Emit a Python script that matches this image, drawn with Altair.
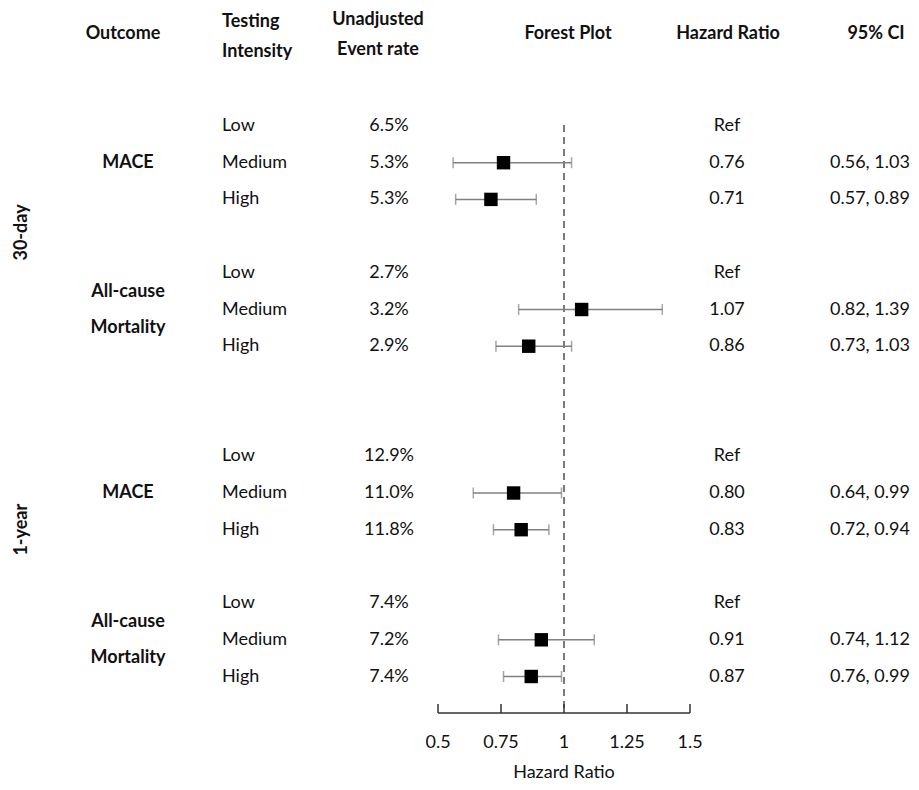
import altair as alt
import pandas as pd

# ---- data ----
periods = ["30-day", "1-year"]
outcomes = ["MACE", "All-cause\nMortality", "MACE", "All-cause\nMortality"]
intensity = ["Low", "Medium", "High"] * 4
event_rate = ["6.5%", "5.3%", "5.3%", "2.7%", "3.2%", "2.9%",
              "12.9%", "11.0%", "11.8%", "7.4%", "7.2%", "7.4%"]
hr = [None, 0.76, 0.71, None, 1.07, 0.86, None, 0.80, 0.83, None, 0.91, 0.87]
ci_lo = [None, 0.56, 0.57, None, 0.82, 0.73, None, 0.64, 0.72, None, 0.74, 0.76]
ci_hi = [None, 1.03, 0.89, None, 1.39, 1.03, None, 0.99, 0.94, None, 1.12, 0.99]
hr_label = ["Ref", "0.76", "0.71", "Ref", "1.07", "0.86",
            "Ref", "0.80", "0.83", "Ref", "0.91", "0.87"]
ci_label = ["", "0.56, 1.03", "0.57, 0.89", "", "0.82, 1.39", "0.73, 1.03",
            "", "0.64, 0.99", "0.72, 0.94", "", "0.74, 1.12", "0.76, 0.99"]
tick_values = [0.5, 0.75, 1.0, 1.25, 1.5]
tick_labels = ["0.5", "0.75", "1", "1.25", "1.5"]

# row layout (row index in table)
rows = [0, 1, 2, 4, 5, 6, 9, 10, 11, 13, 14, 15]
outcome_rows = [1, 5, 10, 14]
period_rows = [2.9, 11.0]

FONT = "Lato"
FS = 18

df = pd.DataFrame({
    "row": rows, "intensity": intensity, "rate": event_rate,
    "hr": hr, "lo": ci_lo, "hi": ci_hi, "hrl": hr_label, "cil": ci_label,
})
df_est = df.dropna(subset=["hr"]).reset_index(drop=True)
df_out = pd.DataFrame({"row": outcome_rows, "label": outcomes})
df_per = pd.DataFrame({"row": period_rows, "label": periods})
df_ticks = pd.DataFrame({"v": tick_values, "lab": tick_labels})

xs = alt.Scale(domain=[0.5, 1.5], range=[430, 682], nice=False, zero=False)
ys = alt.Scale(domain=[0, 15], range=[118, 668.5], nice=False, zero=False)
X = lambda f: alt.X(f, type="quantitative", scale=xs, axis=None)
Y = lambda f: alt.Y(f, type="quantitative", scale=ys, axis=None)


def col_text(field, xpos, align, data=df, bold=False, **kw):
    return alt.Chart(data).mark_text(
        align=align, baseline="middle", font=FONT, fontSize=FS,
        fontWeight="bold" if bold else "normal", color="#111111", **kw
    ).encode(x=alt.value(xpos), y=Y("row"), text=alt.Text(field))


intens = col_text("intensity", 214, "left")
rate = col_text("rate", 381, "center")
hrt = col_text("hrl", 719, "center")
cit = col_text("cil", 822, "left")
outc_single = col_text("label", 120, "center",
                       data=df_out[~df_out["label"].str.contains("\n")], bold=True)
outc_multi = col_text("label", 120, "center",
                      data=df_out[df_out["label"].str.contains("\n")], bold=True,
                      lineBreak="\n", lineHeight=36, dy=-18)
per = alt.Chart(df_per).mark_text(
    align="center", baseline="middle", font=FONT, fontSize=FS,
    fontWeight="bold", angle=270, color="#111111"
).encode(x=alt.value(14), y=Y("row"), text="label")


def header(txt, xpos, ypos, align="center"):
    return alt.Chart(pd.DataFrame({"t": [txt]})).mark_text(
        align=align, baseline="middle", font=FONT, fontSize=FS,
        fontWeight="bold", color="#111111", lineBreak="\n", lineHeight=30
    ).encode(x=alt.value(xpos), y=alt.value(ypos), text="t")


headers = [
    header("Outcome", 115, 26),
    header("Testing\nIntensity", 214, 14, align="left"),
    header("Unadjusted\nEvent rate", 370, 12),
    header("Forest Plot", 560, 26),
    header("Hazard Ratio", 720, 26),
    header("95% CI", 868, 26),
]

# forest plot
ref_line = alt.Chart(pd.DataFrame({"v": [1.0]})).mark_rule(
    color="#7a7a7a", strokeWidth=2, strokeDash=[7, 5]
).encode(x=X("v"), y=alt.value(117), y2=alt.value(705))

err = alt.Chart(df_est).mark_rule(color="#808080", strokeWidth=1.5).encode(
    x=X("lo"), x2=alt.X2("hi"), y=Y("row"))
cap_lo = alt.Chart(df_est).mark_tick(color="#808080", thickness=1.5, size=11,
                                     orient="vertical").encode(x=X("lo"), y=Y("row"))
cap_hi = alt.Chart(df_est).mark_tick(color="#808080", thickness=1.5, size=11,
                                     orient="vertical").encode(x=X("hi"), y=Y("row"))
pts = alt.Chart(df_est).mark_square(color="black", opacity=1, size=180,
                                    filled=True).encode(x=X("hr"), y=Y("row"))

# axis drawn with the x scale
axis_line = alt.Chart(pd.DataFrame({"a": [0.5], "b": [1.5]})).mark_rule(
    color="#333333", strokeWidth=1.5).encode(x=X("a"), x2=alt.X2("b"), y=alt.value(705))
axis_ticks = alt.Chart(df_ticks).mark_rule(color="#333333", strokeWidth=1.5).encode(
    x=X("v"), y=alt.value(696), y2=alt.value(705))
axis_labels = alt.Chart(df_ticks).mark_text(
    font=FONT, fontSize=FS, baseline="middle", align="center", color="#111111"
).encode(x=X("v"), y=alt.value(735), text="lab")
axis_title = alt.Chart(pd.DataFrame({"v": [1.0], "t": ["Hazard Ratio"]})).mark_text(
    font=FONT, fontSize=FS, baseline="middle", align="center", color="#111111"
).encode(x=X("v"), y=alt.value(765), text="t")

chart = alt.layer(
    *headers, intens, rate, hrt, cit, outc_single, outc_multi, per,
    ref_line, err, cap_lo, cap_hi, pts,
    axis_line, axis_ticks, axis_labels, axis_title,
).properties(
    width=903, height=774, autosize=alt.AutoSizeParams(type="none"), padding=0,
    background="white",
).configure_view(
    stroke="transparent", strokeWidth=0
)

chart.save("out.html", embed_options={"renderer": "svg", "actions": False})
